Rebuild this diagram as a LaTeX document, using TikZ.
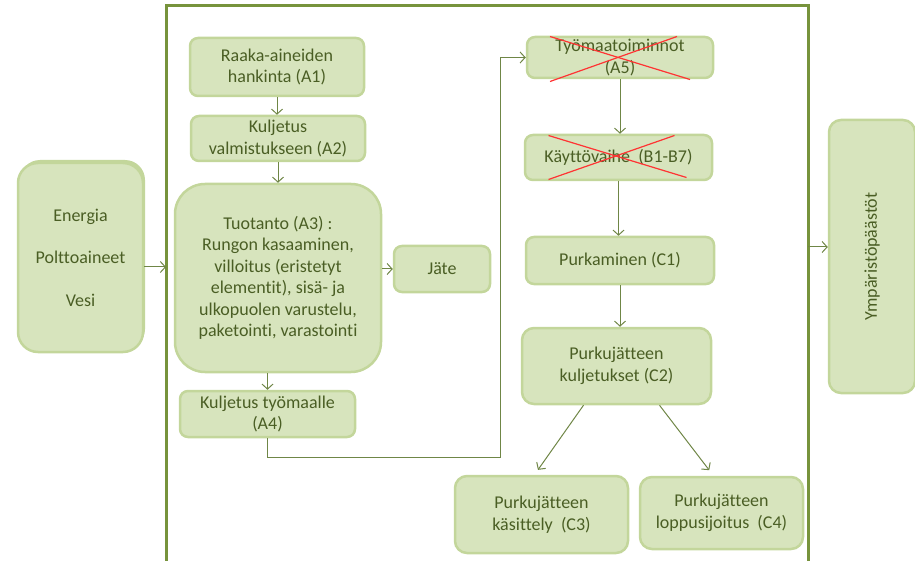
\documentclass[tikz,border=0pt]{standalone}
\usepackage{fontspec}
\setmainfont[Ligatures={NoCommon}]{Carlito}
\usepackage{tikz}
\usetikzlibrary{
  arrows.meta,
  positioning,
  shadows,
  }

\definecolor{boxfill}{HTML}{D7E4BD}
\definecolor{boxline}{HTML}{C3D69B}
\definecolor{boxtext}{HTML}{4A5E24}
\definecolor{framecol}{HTML}{77933C}
\definecolor{arrowcol}{HTML}{6F8646}

\tikzset{
  phase/.style={rectangle, rounded corners=8, fill=boxfill, draw=boxline,
    line width=2.5, text=boxtext, align=center, inner sep=1,
    font=\fontsize{18}{21.5}\selectfont},
  flow/.style={draw=arrowcol, line width=1,
    -{Straight Barb[length=5, width=11, line width=1]}},
  cross/.style={draw=red!80, line width=1.2},
}

\begin{document}
\begin{tikzpicture}
                [x=1pt, y=-1pt]
                \useasboundingbox (0,0) rectangle (915,561);
                \clip (0,0) rectangle (915,561);
                \draw[framecol, line width=3] (166,6) rectangle (808,600);

                \node[phase, rounded corners=20, minimum width=125, minimum height=189,
                  general shadow={fill=boxline, shadow xshift=2, shadow yshift=-3}]
                  (inputs) at (80.5,257.5) {Energia\\[21pt]Polttoaineet\\[21pt]Vesi};
                \node[phase, minimum width=174, minimum height=58] (a1) at (277,67) {Raaka-aineiden\\hankinta (A1)};
                \node[phase, minimum width=174, minimum height=45] (a2) at (278,138.5) {Kuljetus\\valmistukseen (A2)};
                \node[phase, rounded corners=30, minimum width=206, minimum height=188] (a3) at (278,278)
                  {Tuotanto (A3) :\\Rungon kasaaminen,\\villoitus (eristetyt\\elementit), sisä- ja\\ulkopuolen varustelu,\\paketointi, varastointi};
                \node[phase, minimum width=96, minimum height=46] (jate) at (442,269) {Jäte};
                \node[phase, minimum width=175, minimum height=46] (a4) at (267.5,414) {Kuljetus työmaalle\\(A4)};
                \node[phase, minimum width=186, minimum height=41] (a5) at (620,57.5) {Työmaatoiminnot\\(A5)};
                \node[phase, minimum width=187, minimum height=45] (b) at (618.5,157.5) {Käyttövaihe~ (B1-B7)};
                \node[phase, minimum width=188, minimum height=47] (c1) at (620,260.5) {Purkaminen (C1)};
                \node[phase, rounded corners=12, minimum width=189, minimum height=76] (c2) at (616.5,366) {Purkujätteen\\kuljetukset (C2)};
                \node[phase, rounded corners=12, minimum width=173, minimum height=77] (c3) at (541.5,514.5) {Purkujätteen\\käsittely~ (C3)};
                \node[phase, rounded corners=12, minimum width=163, minimum height=72] (c4) at (721.5,513) {Purkujätteen\\loppusijoitus~ (C4)};
                \node[phase, rounded corners=12, rotate=90, minimum width=273, minimum height=86] (emis) at (872,256.5) {Ympäristöpäästöt};

                % crossed out phases
                \draw[cross] ([shift={(-70,-21)}]a5.center) -- ([shift={(70,22)}]a5.center);
                \draw[cross] ([shift={(57,-21)}]a5.center) -- ([shift={(-70,24)}]a5.center);
                \draw[cross] ([shift={(-70,-22)}]b.center) -- ([shift={(68,20)}]b.center);
                \draw[cross] ([shift={(56,-22)}]b.center) -- ([shift={(-70,22)}]b.center);

                \coordinate (fin) at (166,267);
                \coordinate (fout) at (808,247);
                \coordinate (turn) at (500,457);

                \foreach \from\to in {a1/a2,a2/a3,a5/b,b/c1,c1/c2}
                    \draw[flow] (\from.south) -- (\from.south |- \to.north);

                \draw[flow] (inputs.east |- fin) -- (fin);
                \draw[flow] (fout) -- (emis.north |- fout);
                \draw[flow] (a3.east |- jate.west) -- (jate.west);
                \draw[flow] (a3.south -| a4.north) -- (a4.north);
                \draw[flow] (a4.south) |- (turn) |- (a5.west);
                \draw[flow, shorten >=6] ([xshift=-33]c2.south) -- ([xshift=-7]c3.north);
                \draw[flow, shorten >=7] ([xshift=43]c2.south) -- ([xshift=-8]c4.north);
            \end{tikzpicture}
\end{document}
